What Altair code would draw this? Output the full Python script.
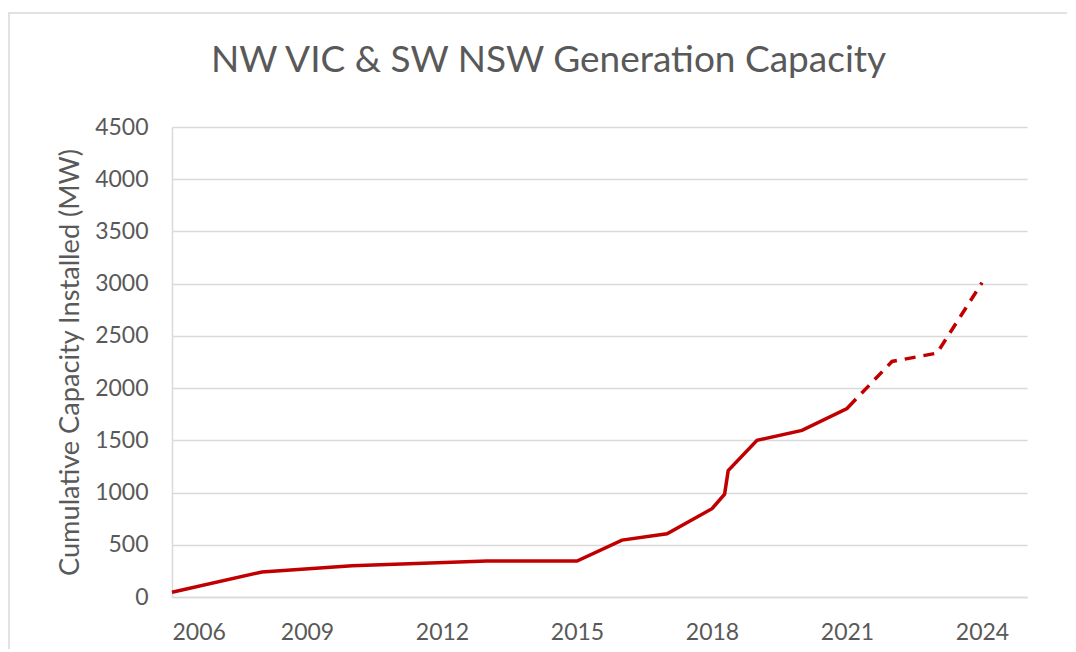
import altair as alt
import pandas as pd

# Installed capacity (MW)
actual_years = [2006, 2008, 2010, 2013, 2015, 2016, 2017, 2018, 2018.28, 2018.36, 2019, 2020, 2021, 2021.2]
actual_mw = [45, 240, 300, 345, 345, 545, 605, 845, 985, 1210, 1500, 1595, 1805, 1895]

projected_years = [2021.2, 2022, 2023, 2024]
projected_mw = [1895, 2255, 2335, 3010]

x_ticks = [2006, 2009, 2012, 2015, 2018, 2021, 2024]
y_ticks = [0, 500, 1000, 1500, 2000, 2500, 3000, 3500, 4000, 4500]

actual = pd.DataFrame({"year": actual_years, "mw": actual_mw})
projected = pd.DataFrame({"year": projected_years, "mw": projected_mw})

RED = "#C00000"
GREY = "#595959"
FONT = "Lato"

x_enc = alt.X(
    "year:Q",
    scale=alt.Scale(domain=[2006, 2025], nice=False, zero=False),
    axis=alt.Axis(
        values=x_ticks, format="d", title=None, grid=False, ticks=False,
        labelPadding=24, domainColor="#d9d9d9", domainWidth=1.5,
        labelFontSize=23, labelColor=GREY, labelFont=FONT,
    ),
)
y_enc = alt.Y(
    "mw:Q",
    scale=alt.Scale(domain=[0, 4500], nice=False),
    axis=alt.Axis(
        values=y_ticks, format="d", title="Cumulative Capacity Installed (MW)", ticks=False,
        labelPadding=24, domainColor="#d9d9d9", domainWidth=1.5,
        gridColor="#d9d9d9", gridWidth=1.5,
        labelFontSize=23, labelColor=GREY, labelFont=FONT,
        titleFontSize=27.2, titleColor=GREY, titleFont=FONT, titleFontWeight="normal",
        titlePadding=10,
    ),
)

solid = alt.Chart(actual).mark_line(color=RED, strokeWidth=3.5).encode(x=x_enc, y=y_enc)
dashed = alt.Chart(projected).mark_line(
    color=RED, strokeWidth=3.5, strokeDash=[11, 8], strokeDashOffset=11
).encode(x="year:Q", y="mw:Q")

border = alt.Chart(pd.DataFrame({"a": [0]})).mark_rect(
    fill="transparent", stroke="#d9d9d9", strokeWidth=1.5
).encode(
    x=alt.value(-163), x2=alt.value(920), y=alt.value(-114), y2=alt.value(600)
)

chart = alt.layer(border, solid, dashed).properties(
    width=855,
    height=470,
    autosize=alt.AutoSizeParams(type="none"),
    padding={"left": 164, "top": 119, "right": 40, "bottom": 52},
    title=alt.TitleParams(
        "NW VIC & SW NSW Generation Capacity",
        fontSize=37, font=FONT, color=GREY, fontWeight="normal",
        anchor="middle", dx=-51, offset=-68,
    ),
).configure_view(stroke=None)

chart.save("out.html", embed_options={"renderer": "svg", "actions": False})
